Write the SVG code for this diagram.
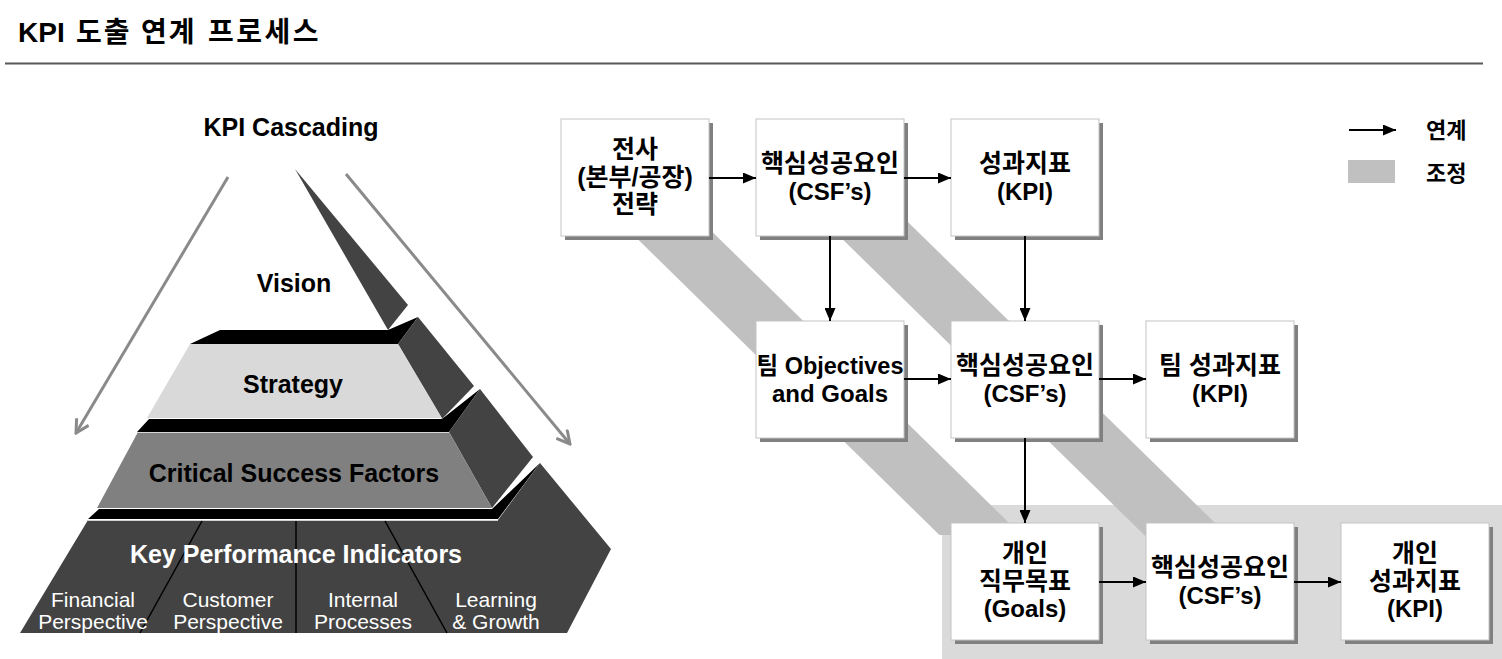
<svg xmlns="http://www.w3.org/2000/svg" width="1502" height="659" viewBox="0 0 1502 659">
<style>
text{font-family:"Liberation Sans","Noto Sans CJK KR",sans-serif;}
.t{font-weight:bold;font-size:24px;text-anchor:middle;fill:#000;}
.k{font-size:25px;}
.pl{font-weight:bold;font-size:25px;text-anchor:middle;fill:#000;}
.kp{font-weight:bold;font-size:25px;text-anchor:middle;fill:#fff;}
.sub{font-size:21px;text-anchor:middle;fill:#fff;}
.box{fill:#fff;stroke:#c4c4c4;stroke-width:1;}
.shd{fill:#808080;}
.band{fill:#c0c0c0;}
.dark{fill:#434343;}
.blk{fill:#000;}
.con{stroke:#000;stroke-width:2;fill:none;marker-end:url(#ah);}
.garr{stroke:#8a8a8a;stroke-width:3;fill:none;marker-end:url(#gh);}
</style>
<defs>
<marker id="ah" markerUnits="userSpaceOnUse" markerWidth="13" markerHeight="11" refX="13" refY="5.5" orient="auto"><path d="M0,0 L13,5.5 L0,11 z" fill="#000"/></marker>
<marker id="gh" markerUnits="userSpaceOnUse" markerWidth="16" markerHeight="16" refX="14" refY="8" orient="auto"><path d="M1,1 L14,8 L1,15" fill="none" stroke="#8a8a8a" stroke-width="3"/></marker>
</defs>
<rect width="1502" height="659" fill="#fff"/>

<g id="title">
<text y="42" style="font-weight:bold;font-size:28px"><tspan x="18">KPI </tspan><tspan x="76" style="letter-spacing:2px">도출 </tspan><tspan x="141" style="letter-spacing:2px">연계 </tspan><tspan x="208" style="letter-spacing:2.5px">프로세스</tspan></text>
<line x1="5" y1="63.5" x2="1483" y2="63.5" stroke="#595959" stroke-width="2"/>
</g>

<g id="pyramid">
<text class="pl" x="291" y="136">KPI Cascading</text>
<line class="garr" x1="228" y1="177" x2="76" y2="433"/>
<line class="garr" x1="346" y1="174" x2="570" y2="444"/>
<polygon class="dark" points="295,169 408,305 388,330"/>
<text class="pl" x="294" y="292">Vision</text>
<polygon class="blk" points="190,344 220,330 388,330 418,317 398,344"/>
<polygon class="dark" points="398,344 418,317 474,386 442,419"/>
<polygon fill="#d9d9d9" points="190,344 398,344 442,418 147,418"/>
<text class="pl" x="293" y="393">Strategy</text>
<polygon class="blk" points="137,432 149,419 442,419 480,389 449,432"/>
<polygon class="dark" points="449,432 480,389 533,457 492,508"/>
<polygon fill="#808080" points="138,432 449,432 492,508 97,508"/>
<line x1="138" y1="432.5" x2="449" y2="432.5" stroke="#d8d8d8" stroke-width="1"/>
<text class="pl" x="294" y="482">Critical Success Factors</text>
<polygon class="blk" points="88,519 99,509 492,509 540,463 498,519"/>
<polygon class="dark" points="88,520 498,520 540,463 611,549 567,633 20,633"/>
<line x1="88" y1="520" x2="498" y2="520" stroke="#fff" stroke-width="1.5"/>
<g stroke="#000" stroke-width="1.5">
<line x1="202" y1="521" x2="140" y2="633"/>
<line x1="296" y1="521" x2="296" y2="633"/>
<line x1="385" y1="521" x2="447" y2="633"/>
</g>
<text class="kp" x="296" y="563">Key Performance Indicators</text>
<text class="sub" x="93" y="607">Financial</text>
<text class="sub" x="93" y="629">Perspective</text>
<text class="sub" x="228" y="607">Customer</text>
<text class="sub" x="228" y="629">Perspective</text>
<text class="sub" x="363" y="607">Internal</text>
<text class="sub" x="363" y="629">Processes</text>
<text class="sub" x="496" y="607">Learning</text>
<text class="sub" x="496" y="629">&amp; Growth</text>
</g>

<rect id="individual-zone" x="942" y="505" width="560" height="154" fill="#dadada"/>

<g id="adjustments">
<polygon class="band" points="597.8,200 679.8,200 1021.4,535 939.4,535"/>
<polygon class="band" points="802.5,200 885.5,200 1228.3,536 1145.3,536"/>
</g>

<g id="n1"><rect class="shd" x="565" y="123" width="148" height="117"/><rect class="box" x="561" y="119" width="148" height="117"/>
<text class="t k" x="635" y="158">전사</text><text class="t k" x="635" y="186">(본부/공장)</text><text class="t k" x="635" y="213">전략</text></g>
<g id="n2"><rect class="shd" x="760" y="123" width="148" height="117"/><rect class="box" x="756" y="119" width="148" height="117"/>
<text class="t k" x="830" y="172">핵심성공요인</text><text class="t" x="830" y="200">(CSF’s)</text></g>
<g id="n3"><rect class="shd" x="955" y="123" width="148" height="117"/><rect class="box" x="951" y="119" width="148" height="117"/>
<text class="t k" x="1025" y="172">성과지표</text><text class="t" x="1025" y="200">(KPI)</text></g>
<g id="n4"><rect class="shd" x="760" y="325" width="148" height="117"/><rect class="box" x="756" y="321" width="148" height="117"/>
<text class="t" x="830" y="374" style="font-size:23.5px">팀 Objectives</text><text class="t" x="830" y="402">and Goals</text></g>
<g id="n5"><rect class="shd" x="955" y="325" width="148" height="117"/><rect class="box" x="951" y="321" width="148" height="117"/>
<text class="t k" x="1025" y="374">핵심성공요인</text><text class="t" x="1025" y="402">(CSF’s)</text></g>
<g id="n6"><rect class="shd" x="1150" y="325" width="148" height="117"/><rect class="box" x="1146" y="321" width="148" height="117"/>
<text class="t k" x="1220" y="374">팀 성과지표</text><text class="t" x="1220" y="402">(KPI)</text></g>
<g id="n7"><rect class="shd" x="955" y="527" width="148" height="117"/><rect class="box" x="951" y="523" width="148" height="117"/>
<text class="t k" x="1025" y="562">개인</text><text class="t k" x="1025" y="590">직무목표</text><text class="t" x="1025" y="617">(Goals)</text></g>
<g id="n8"><rect class="shd" x="1150" y="527" width="148" height="117"/><rect class="box" x="1146" y="523" width="148" height="117"/>
<text class="t k" x="1220" y="576">핵심성공요인</text><text class="t" x="1220" y="604">(CSF’s)</text></g>
<g id="n9"><rect class="shd" x="1345" y="527" width="148" height="117"/><rect class="box" x="1341" y="523" width="148" height="117"/>
<text class="t k" x="1415" y="562">개인</text><text class="t k" x="1415" y="590">성과지표</text><text class="t" x="1415" y="617">(KPI)</text></g>

<g id="connectors">
<line class="con" x1="709" y1="178" x2="756" y2="178"/>
<line class="con" x1="904" y1="178" x2="951" y2="178"/>
<line class="con" x1="830" y1="236" x2="830" y2="321"/>
<line class="con" x1="1025" y1="236" x2="1025" y2="321"/>
<line class="con" x1="904" y1="379" x2="951" y2="379"/>
<line class="con" x1="1099" y1="379" x2="1146" y2="379"/>
<line class="con" x1="1025" y1="438" x2="1025" y2="523"/>
<line class="con" x1="1099" y1="582" x2="1146" y2="582"/>
<line class="con" x1="1294" y1="582" x2="1341" y2="582"/>
</g>

<g id="legend">
<line class="con" x1="1349" y1="130" x2="1396" y2="130"/>
<text x="1426" y="138" style="font-weight:bold;font-size:22px">연계</text>
<rect x="1348" y="160" width="47" height="23" fill="#c0c0c0"/>
<text x="1426" y="181" style="font-weight:bold;font-size:22px">조정</text>
</g>
</svg>
